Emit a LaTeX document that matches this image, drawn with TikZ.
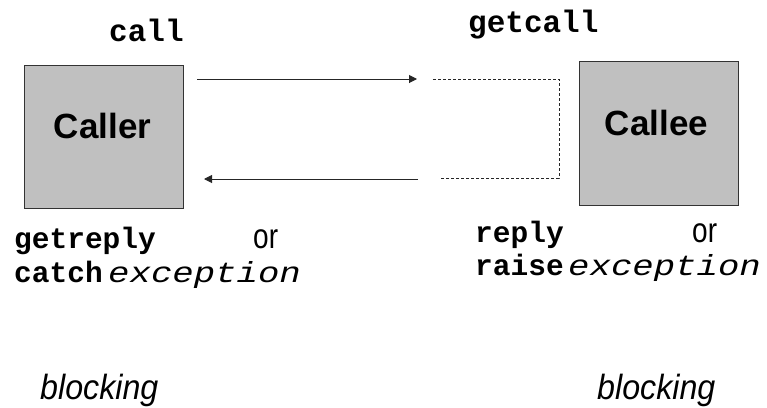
\documentclass[tikz,border=0pt]{standalone}
\usepackage{fontspec}
\usepackage{graphicx}
\setmainfont{Liberation Sans}
\newfontfamily\codefont{Liberation Mono}
\usetikzlibrary{arrows.meta}
\definecolor{boxgray}{HTML}{C0C0C0}
\definecolor{edgegray}{HTML}{333333}

\begin{document}
\begin{tikzpicture}[x=1pt,y=-1pt,
  procbox/.style={draw=edgegray, line width=1pt, fill=boxgray,
    minimum width=159pt, minimum height=143pt, inner sep=0pt},
  procname/.style={anchor=base, inner sep=0pt,
    font=\bfseries\fontsize{35}{35}\selectfont},
  kwtop/.style={anchor=base west, inner sep=0pt,
    font=\codefont\bfseries\fontsize{31}{31}\selectfont},
  kw/.style={anchor=base west, inner sep=0pt,
    font=\codefont\bfseries\fontsize{29.5}{29.5}\selectfont},
  exc/.style={anchor=base west, inner sep=0pt,
    font=\codefont\itshape\fontsize{29}{29}\selectfont},
  ortext/.style={anchor=base west, inner sep=0pt,
    font=\fontsize{35}{35}\selectfont},
  blk/.style={anchor=base west, inner sep=0pt,
    font=\itshape\fontsize{35}{35}\selectfont},
  msg/.style={line width=1pt, draw=black!85,
    -{Triangle[length=8pt,width=8pt]}},
  wait/.style={line width=1pt, draw=black!85, dash pattern=on 3pt off 2pt}]

\useasboundingbox (0,0) rectangle (767,407);

% processes
\node[procbox] (caller) at (103.5,136.5) {};
\node[procname] (callername) at (102.5,138) {Caller};
\node[procbox, minimum height=144pt] (callee) at (658.5,133) {};
\node[procname] (calleename) at (656.5,135) {Callee};

% primitives above the boxes
\node[kwtop] (call) at (109,41) {call};
\node[kwtop] (getcall) at (468,32) {getcall};

% primitives below the boxes
\node[kw] (getreply) at (14,248) {getreply};
\node[ortext] (or1) at (253,248) {\scalebox{0.8}[1]{or}};
\node[kw] (catch) at (14,282) {catch};
\node[exc] (exc1) at (108,282) {\scalebox{1.23}[1]{exception}};

\node[kw] (reply) at (475,242) {reply};
\node[ortext] (or2) at (692,242) {\scalebox{0.8}[1]{or}};
\node[kw] (raise) at (475,275) {raise};
\node[exc] (exc2) at (568,275) {\scalebox{1.23}[1]{exception}};

\node[blk] (blk1) at (40,399) {\scalebox{0.92}[1]{blocking}};
\node[blk] (blk2) at (597,399) {\scalebox{0.92}[1]{blocking}};

% message path
\coordinate (reqstart) at (197,79);
\coordinate (reqend) at (417,79);
\coordinate (waitstart) at (433,79);
\coordinate (waitcorner1) at (559,79);
\coordinate (waitcorner2) at (559,178);
\coordinate (waitend) at (441,178);
\coordinate (repstart) at (418,179);
\coordinate (repend) at (204,179);

\draw[msg] (reqstart) -- (reqend);
\draw[wait] (waitstart) -- (waitcorner1) -- (waitcorner2) -- (waitend);
\draw[msg] (repstart) -- (repend);
\end{tikzpicture}
\end{document}
